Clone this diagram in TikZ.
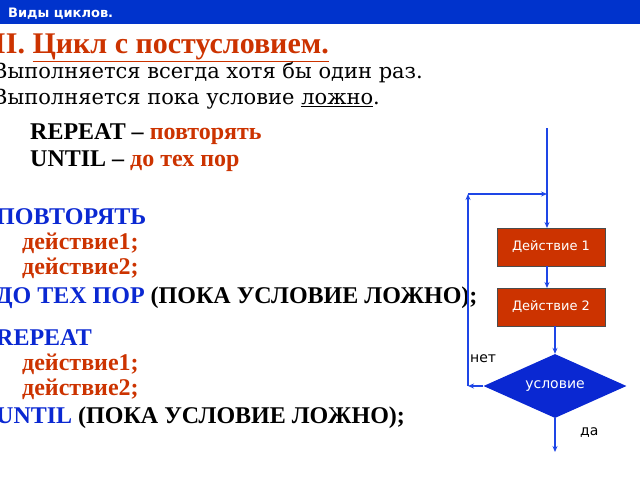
\documentclass[tikz,border=0pt]{standalone}
\usepackage{fontspec}
\setmainfont{Liberation Serif}
\newfontfamily\dvs{DejaVu Sans}
\newfontfamily\dvserif{DejaVu Serif}
\usetikzlibrary{shapes.geometric,arrows.meta}
\definecolor{barblue}{RGB}{0,51,204}
\definecolor{rd}{RGB}{204,51,0}
\definecolor{cb}{RGB}{10,40,210}
\definecolor{ln}{RGB}{30,70,230}
\begin{document}
\begin{tikzpicture}[x=1pt,y=-1pt,
  txt/.style={anchor=base west,inner sep=0pt,font=\fontsize{24}{26}\selectfont\bfseries},
  act/.style={draw=black!70,fill=rd,text=white,minimum width=108pt,minimum height=38pt,font=\dvs\fontsize{13}{15}\selectfont},
  cond/.style={diamond,aspect=2.25,fill=cb,text=white,minimum width=143pt,minimum height=64pt,inner sep=0pt,font=\dvs\fontsize{14}{16}\selectfont},
  arr/.style={ln,line width=1.6pt,-{Stealth[length=6pt,width=5pt]}},
  lnk/.style={ln,line width=1.6pt}]
\useasboundingbox (0,0) rectangle (640,480);
\fill[barblue] (0,0) rectangle (640,24);
\node[anchor=base west,inner sep=0pt,text=white,font=\dvs\bfseries\fontsize{13}{15}\selectfont] (t) at (8,17) {Виды циклов.};
\node[anchor=base west,inner sep=0pt,font=\fontsize{30}{32}\selectfont\bfseries,text=rd] (h) at (-6,53) {II. \underline{Цикл с постусловием.}};
\node[anchor=base west,inner sep=0pt,font=\dvserif\fontsize{21}{23}\selectfont] (l1) at (-8,78) {Выполняется всегда хотя бы один раз.};
\node[anchor=base west,inner sep=0pt,font=\dvserif\fontsize{21}{23}\selectfont] (l2) at (-8,104) {Выполняется пока условие \underline{ложно}.};
\node[txt] (r1) at (30,139) {REPEAT – \textcolor{rd}{повторять}};
\node[txt] (r2) at (30,166) {UNTIL – \textcolor{rd}{до тех пор}};
\node[txt,text=cb] (c1) at (-4,224) {ПОВТОРЯТЬ};
\node[txt,text=rd] (c2) at (22,249) {действие1;};
\node[txt,text=rd] (c3) at (22,274) {действие2;};
\node[txt] (c4) at (-4,303) {\textcolor{cb}{ДО ТЕХ ПОР} (ПОКА УСЛОВИЕ ЛОЖНО);};
\node[txt,text=cb] (c5) at (-4,345) {REPEAT};
\node[txt,text=rd] (c6) at (22,370) {действие1;};
\node[txt,text=rd] (c7) at (22,395) {действие2;};
\node[txt] (c8) at (-4,423) {\textcolor{cb}{UNTIL} (ПОКА УСЛОВИЕ ЛОЖНО);};
% flowchart
\node[act] (a1) at (551,247) {Действие 1};
\node[act] (a2) at (551,307) {Действие 2};
\node[cond] (d) at (555,386) {условие};
\coordinate (top) at (547,128);
\coordinate (j) at (547,194);
\coordinate (lc) at (468,194);
\coordinate (lb) at (468,386);
\coordinate (end) at (555,452);
\draw[lnk] (top) -- (j);
\draw[arr] (j) -- (547,228);
\draw[arr] (547,266) -- (547,288);
\draw[arr] (555,326) -- (d.north);
\draw[arr] (d.south) -- (end);
\draw[arr] (d.west) -- (lb);
\draw[arr] (lb) -- (lc);
\draw[arr] (lc) -- (j);
\node[anchor=base west,inner sep=0pt,font=\dvs\fontsize{14}{16}\selectfont] (no) at (470,362) {нет};
\node[anchor=base west,inner sep=0pt,font=\dvs\fontsize{14}{16}\selectfont] (yes) at (580,435) {да};
\end{tikzpicture}
\end{document}
